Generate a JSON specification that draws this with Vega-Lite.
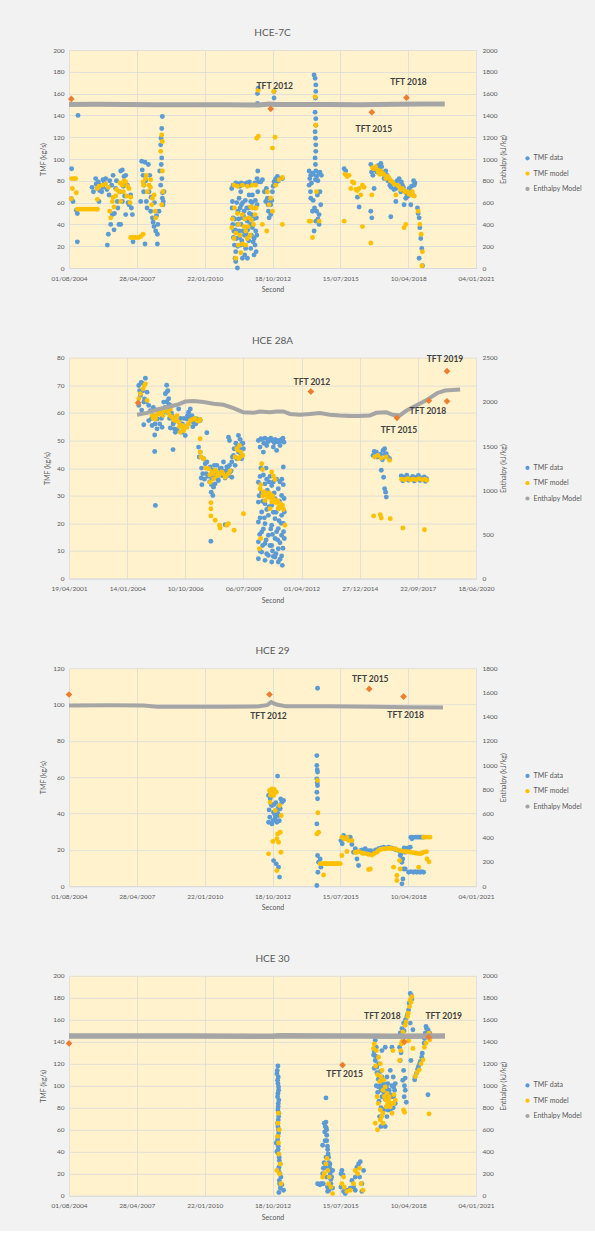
{
"$schema":"https://vega.github.io/schema/vega-lite/v6.json",
"background":"#F2F2F2",
"padding":{"left":39,"top":28,"right":15,"bottom":10},
"spacing":42.6,
"config":{
 "font":"Lato",
 "view":{"fill":"#FFF2CC","stroke":null},
 "axis":{"labelFont":"Lato","titleFont":"Lato","labelFontSize":6.5,"titleFontSize":7,"labelColor":"#595959","titleColor":"#595959","titleFontWeight":"normal","ticks":false,"domain":false,"gridColor":"#D9D9D9","gridWidth":0.8},
 "axisX":{"domain":true,"domainColor":"#D9D9D9","labelPadding":7,"titlePadding":4,"labelFlush":false,"labelOverlap":false},
 "title":{"font":"Lato","fontSize":10,"fontWeight":"normal","color":"#595959","offset":9,"anchor":"middle"},
 "point":{"filled":true,"size":24,"opacity":1},
 "text":{"font":"Lato","fontWeight":"bold","fontSize":8.5,"color":"#404040","align":"center","baseline":"middle"}
},
"resolve":{"scale":{"x":"independent","y":"independent","color":"independent"},"legend":{"color":"independent"}},
"vconcat":[
{
 "width":407,"height":218,
 "title":{"text":"HCE-7C"},
 "data":{"values":[
{"series":"TMF data","d":38239,"v":91},{"series":"TMF data","d":38234,"v":63.5},{"series":"TMF data","d":38333,"v":140},{"series":"TMF data","d":38323,"v":50},{"series":"TMF data","d":38323,"v":24},{"series":"TMF data","d":38308,"v":53},{"series":"TMF data","d":38259,"v":61},
{"series":"TMF data","d":38593,"v":82},{"series":"TMF data","d":38633,"v":79},{"series":"TMF data","d":38667,"v":76},{"series":"TMF data","d":38701,"v":81},{"series":"TMF data","d":38741,"v":82},{"series":"TMF data","d":38618,"v":73},{"series":"TMF data","d":38642,"v":61},{"series":"TMF data","d":38682,"v":70},
{"series":"TMF data","d":38600,"v":77},{"series":"TMF data","d":38650,"v":71},{"series":"TMF data","d":38700,"v":74},{"series":"TMF data","d":38720,"v":78},{"series":"TMF data","d":38760,"v":72},{"series":"TMF data","d":38540,"v":74},{"series":"TMF data","d":38560,"v":70},
{"series":"TMF data","d":38765,"v":21},{"series":"TMF data","d":38780,"v":31},{"series":"TMF data","d":38815,"v":40},{"series":"TMF data","d":38839,"v":49},{"series":"TMF data","d":38864,"v":35},{"series":"TMF data","d":38888,"v":73},{"series":"TMF data","d":38913,"v":61},{"series":"TMF data","d":38937,"v":40},{"series":"TMF data","d":38962,"v":89},{"series":"TMF data","d":38987,"v":90},{"series":"TMF data","d":39011,"v":84},{"series":"TMF data","d":39036,"v":85},{"series":"TMF data","d":39060,"v":76},{"series":"TMF data","d":39085,"v":58},{"series":"TMF data","d":39109,"v":67},{"series":"TMF data","d":39134,"v":49},{"series":"TMF data","d":39144,"v":24},{"series":"TMF data","d":38790,"v":67},{"series":"TMF data","d":38829,"v":76},{"series":"TMF data","d":38987,"v":61},{"series":"TMF data","d":39036,"v":49},{"series":"TMF data","d":38962,"v":40},
{"series":"TMF data","d":38800,"v":80},{"series":"TMF data","d":38850,"v":85},{"series":"TMF data","d":38900,"v":80},{"series":"TMF data","d":38950,"v":70},{"series":"TMF data","d":39000,"v":75},{"series":"TMF data","d":38870,"v":50},{"series":"TMF data","d":38920,"v":55},{"series":"TMF data","d":39020,"v":66},{"series":"TMF data","d":39070,"v":60},{"series":"TMF data","d":39120,"v":55},
{"series":"TMF data","d":39257,"v":61},{"series":"TMF data","d":39272,"v":98},{"series":"TMF data","d":39321,"v":97},{"series":"TMF data","d":39370,"v":95},{"series":"TMF data","d":39306,"v":76},{"series":"TMF data","d":39380,"v":70},{"series":"TMF data","d":39404,"v":52},{"series":"TMF data","d":39429,"v":46},{"series":"TMF data","d":39454,"v":38},{"series":"TMF data","d":39478,"v":34},{"series":"TMF data","d":39503,"v":31},{"series":"TMF data","d":39321,"v":22},{"series":"TMF data","d":39503,"v":22},{"series":"TMF data","d":39340,"v":61},{"series":"TMF data","d":39292,"v":85},
{"series":"TMF data","d":39280,"v":90},{"series":"TMF data","d":39300,"v":70},{"series":"TMF data","d":39330,"v":80},{"series":"TMF data","d":39350,"v":55},{"series":"TMF data","d":39390,"v":85},{"series":"TMF data","d":39410,"v":65},{"series":"TMF data","d":39440,"v":42},{"series":"TMF data","d":39460,"v":60},{"series":"TMF data","d":39490,"v":48},{"series":"TMF data","d":39510,"v":40},
{"series":"TMF data","d":39576,"v":139},{"series":"TMF data","d":39567,"v":128},{"series":"TMF data","d":39557,"v":119},{"series":"TMF data","d":39552,"v":113},{"series":"TMF data","d":39567,"v":101},{"series":"TMF data","d":39537,"v":89},{"series":"TMF data","d":39552,"v":76},{"series":"TMF data","d":39576,"v":64},{"series":"TMF data","d":39586,"v":58},{"series":"TMF data","d":39527,"v":52},{"series":"TMF data","d":39601,"v":70},{"series":"TMF data","d":39560,"v":95},{"series":"TMF data","d":39570,"v":82},{"series":"TMF data","d":39580,"v":69},{"series":"TMF data","d":39590,"v":61},
{"series":"TMF data","d":40599,"v":73},{"series":"TMF data","d":40609,"v":61},{"series":"TMF data","d":40619,"v":46},{"series":"TMF data","d":40629,"v":34},{"series":"TMF data","d":40638,"v":21},{"series":"TMF data","d":40648,"v":9},{"series":"TMF data","d":40658,"v":15},{"series":"TMF data","d":40668,"v":27},{"series":"TMF data","d":40683,"v":40},{"series":"TMF data","d":40692,"v":52},{"series":"TMF data","d":40707,"v":64},{"series":"TMF data","d":40717,"v":75},{"series":"TMF data","d":40732,"v":70},{"series":"TMF data","d":40742,"v":58},{"series":"TMF data","d":40756,"v":46},{"series":"TMF data","d":40766,"v":34},{"series":"TMF data","d":40781,"v":21},{"series":"TMF data","d":40791,"v":12},{"series":"TMF data","d":40805,"v":18},{"series":"TMF data","d":40815,"v":31},{"series":"TMF data","d":40830,"v":43},{"series":"TMF data","d":40845,"v":55},{"series":"TMF data","d":40855,"v":67},{"series":"TMF data","d":40869,"v":76},{"series":"TMF data","d":40879,"v":61},{"series":"TMF data","d":40894,"v":49},{"series":"TMF data","d":40904,"v":37},{"series":"TMF data","d":40914,"v":24},{"series":"TMF data","d":40928,"v":12},{"series":"TMF data","d":40943,"v":21},{"series":"TMF data","d":40953,"v":34},{"series":"TMF data","d":40963,"v":46},{"series":"TMF data","d":40973,"v":58},{"series":"TMF data","d":40983,"v":70},{"series":"TMF data","d":40992,"v":79},{"series":"TMF data","d":40683,"v":0},{"series":"TMF data","d":40658,"v":6},{"series":"TMF data","d":40732,"v":21},{"series":"TMF data","d":40707,"v":34},{"series":"TMF data","d":40781,"v":52},{"series":"TMF data","d":40830,"v":9},{"series":"TMF data","d":40879,"v":18},{"series":"TMF data","d":40928,"v":27},{"series":"TMF data","d":40756,"v":9},{"series":"TMF data","d":40904,"v":67},
{"series":"TMF data","d":40604,"v":55},{"series":"TMF data","d":40614,"v":40},{"series":"TMF data","d":40624,"v":28},{"series":"TMF data","d":40643,"v":45},{"series":"TMF data","d":40653,"v":35},{"series":"TMF data","d":40673,"v":60},{"series":"TMF data","d":40688,"v":20},{"series":"TMF data","d":40702,"v":45},{"series":"TMF data","d":40712,"v":28},{"series":"TMF data","d":40722,"v":55},{"series":"TMF data","d":40737,"v":40},{"series":"TMF data","d":40747,"v":25},{"series":"TMF data","d":40761,"v":60},{"series":"TMF data","d":40771,"v":48},{"series":"TMF data","d":40786,"v":30},{"series":"TMF data","d":40800,"v":62},{"series":"TMF data","d":40810,"v":45},{"series":"TMF data","d":40820,"v":55},{"series":"TMF data","d":40835,"v":35},{"series":"TMF data","d":40850,"v":25},{"series":"TMF data","d":40860,"v":50},{"series":"TMF data","d":40874,"v":40},{"series":"TMF data","d":40889,"v":30},{"series":"TMF data","d":40899,"v":60},{"series":"TMF data","d":40918,"v":45},{"series":"TMF data","d":40938,"v":55},{"series":"TMF data","d":40948,"v":62},{"series":"TMF data","d":40958,"v":15},{"series":"TMF data","d":40968,"v":30},{"series":"TMF data","d":40620,"v":76},{"series":"TMF data","d":40660,"v":78},{"series":"TMF data","d":40700,"v":77},{"series":"TMF data","d":40740,"v":78},{"series":"TMF data","d":40780,"v":77},{"series":"TMF data","d":40820,"v":78},{"series":"TMF data","d":40860,"v":79},{"series":"TMF data","d":40940,"v":78},
{"series":"TMF data","d":40978,"v":160},{"series":"TMF data","d":40988,"v":165},{"series":"TMF data","d":40978,"v":151},{"series":"TMF data","d":40983,"v":89},{"series":"TMF data","d":40973,"v":82},{"series":"TMF data","d":41027,"v":79},{"series":"TMF data","d":41051,"v":81},
{"series":"TMF data","d":41110,"v":73},{"series":"TMF data","d":41125,"v":64},{"series":"TMF data","d":41140,"v":52},{"series":"TMF data","d":41150,"v":46},{"series":"TMF data","d":41174,"v":58},{"series":"TMF data","d":41199,"v":70},{"series":"TMF data","d":41223,"v":79},{"series":"TMF data","d":41248,"v":82},{"series":"TMF data","d":41272,"v":84},{"series":"TMF data","d":41307,"v":82},{"series":"TMF data","d":41346,"v":82},{"series":"TMF data","d":41223,"v":162},{"series":"TMF data","d":41223,"v":156},{"series":"TMF data","d":41174,"v":49},{"series":"TMF data","d":41100,"v":61},
{"series":"TMF data","d":41080,"v":70},{"series":"TMF data","d":41135,"v":58},{"series":"TMF data","d":41160,"v":60},{"series":"TMF data","d":41190,"v":62},{"series":"TMF data","d":41210,"v":75},{"series":"TMF data","d":41235,"v":80},{"series":"TMF data","d":41260,"v":79},{"series":"TMF data","d":41290,"v":80},
{"series":"TMF data","d":41813,"v":177},{"series":"TMF data","d":41828,"v":174},{"series":"TMF data","d":41838,"v":162},{"series":"TMF data","d":41828,"v":150},{"series":"TMF data","d":41838,"v":137},{"series":"TMF data","d":41828,"v":125},{"series":"TMF data","d":41838,"v":113},{"series":"TMF data","d":41828,"v":101},{"series":"TMF data","d":41838,"v":89},{"series":"TMF data","d":41740,"v":89},{"series":"TMF data","d":41764,"v":85},{"series":"TMF data","d":41789,"v":87},{"series":"TMF data","d":41887,"v":87},{"series":"TMF data","d":41921,"v":85},{"series":"TMF data","d":41740,"v":76},{"series":"TMF data","d":41764,"v":64},{"series":"TMF data","d":41789,"v":52},{"series":"TMF data","d":41838,"v":43},{"series":"TMF data","d":41887,"v":49},{"series":"TMF data","d":41911,"v":58},{"series":"TMF data","d":41862,"v":67},{"series":"TMF data","d":41813,"v":34},{"series":"TMF data","d":41887,"v":40},{"series":"TMF data","d":41838,"v":168},{"series":"TMF data","d":41828,"v":143},{"series":"TMF data","d":41838,"v":131},{"series":"TMF data","d":41838,"v":107},{"series":"TMF data","d":41833,"v":156},{"series":"TMF data","d":41833,"v":119},{"series":"TMF data","d":41833,"v":95},{"series":"TMF data","d":41833,"v":81},
{"series":"TMF data","d":41750,"v":82},{"series":"TMF data","d":41775,"v":78},{"series":"TMF data","d":41800,"v":86},{"series":"TMF data","d":41850,"v":84},{"series":"TMF data","d":41870,"v":80},{"series":"TMF data","d":41900,"v":88},{"series":"TMF data","d":41760,"v":70},{"series":"TMF data","d":41800,"v":62},{"series":"TMF data","d":41820,"v":55},{"series":"TMF data","d":41850,"v":52},{"series":"TMF data","d":41870,"v":45},{"series":"TMF data","d":41900,"v":70},
{"series":"TMF data","d":42256,"v":91},{"series":"TMF data","d":42280,"v":89},{"series":"TMF data","d":42477,"v":56},{"series":"TMF data","d":42649,"v":52},{"series":"TMF data","d":42664,"v":46},{"series":"TMF data","d":42452,"v":65},
{"series":"TMF data","d":42649,"v":95},{"series":"TMF data","d":42723,"v":92},{"series":"TMF data","d":42797,"v":96},{"series":"TMF data","d":42870,"v":89},{"series":"TMF data","d":42919,"v":82},{"series":"TMF data","d":42969,"v":79},{"series":"TMF data","d":43018,"v":73},{"series":"TMF data","d":43067,"v":82},{"series":"TMF data","d":43116,"v":76},{"series":"TMF data","d":43165,"v":70},{"series":"TMF data","d":43214,"v":73},{"series":"TMF data","d":43263,"v":67},{"series":"TMF data","d":43288,"v":76},{"series":"TMF data","d":42944,"v":47},{"series":"TMF data","d":43018,"v":61},{"series":"TMF data","d":43140,"v":58},{"series":"TMF data","d":43165,"v":64},{"series":"TMF data","d":42698,"v":73},{"series":"TMF data","d":42846,"v":82},{"series":"TMF data","d":43239,"v":58},
{"series":"TMF data","d":42660,"v":88},{"series":"TMF data","d":42680,"v":85},{"series":"TMF data","d":42700,"v":90},{"series":"TMF data","d":42740,"v":88},{"series":"TMF data","d":42760,"v":94},{"series":"TMF data","d":42780,"v":91},{"series":"TMF data","d":42810,"v":93},{"series":"TMF data","d":42830,"v":86},{"series":"TMF data","d":42850,"v":88},{"series":"TMF data","d":42890,"v":85},{"series":"TMF data","d":42900,"v":80},{"series":"TMF data","d":42930,"v":76},{"series":"TMF data","d":42950,"v":74},{"series":"TMF data","d":42990,"v":72},{"series":"TMF data","d":43000,"v":78},{"series":"TMF data","d":43040,"v":80},{"series":"TMF data","d":43060,"v":76},{"series":"TMF data","d":43090,"v":70},{"series":"TMF data","d":43100,"v":79},{"series":"TMF data","d":43130,"v":74},{"series":"TMF data","d":43180,"v":68},{"series":"TMF data","d":43200,"v":66},{"series":"TMF data","d":43230,"v":70},{"series":"TMF data","d":43250,"v":75},{"series":"TMF data","d":43280,"v":80},{"series":"TMF data","d":43300,"v":78},
{"series":"TMF data","d":43337,"v":55},{"series":"TMF data","d":43362,"v":46},{"series":"TMF data","d":43372,"v":37},{"series":"TMF data","d":43386,"v":27},{"series":"TMF data","d":43401,"v":18},{"series":"TMF data","d":43362,"v":9},{"series":"TMF data","d":43411,"v":2},{"series":"TMF data","d":43347,"v":50},
{"series":"TMF model","d":38239,"v":82},{"series":"TMF model","d":38274,"v":82},{"series":"TMF model","d":38298,"v":82},{"series":"TMF model","d":38234,"v":63.5},{"series":"TMF model","d":38249,"v":73},{"series":"TMF model","d":38308,"v":69},
{"series":"TMF model","d":38323,"v":54},{"series":"TMF model","d":38352,"v":54},{"series":"TMF model","d":38382,"v":54},{"series":"TMF model","d":38411,"v":54},{"series":"TMF model","d":38441,"v":54},{"series":"TMF model","d":38470,"v":54},{"series":"TMF model","d":38500,"v":54},{"series":"TMF model","d":38529,"v":54},{"series":"TMF model","d":38559,"v":54},{"series":"TMF model","d":38588,"v":54},{"series":"TMF model","d":38618,"v":54},
{"series":"TMF model","d":38618,"v":73},{"series":"TMF model","d":38642,"v":75},{"series":"TMF model","d":38692,"v":76},{"series":"TMF model","d":38741,"v":77},{"series":"TMF model","d":38780,"v":74},{"series":"TMF model","d":38618,"v":63},
{"series":"TMF model","d":38800,"v":52},{"series":"TMF model","d":38815,"v":46},{"series":"TMF model","d":38839,"v":61},{"series":"TMF model","d":38864,"v":56},{"series":"TMF model","d":38888,"v":66},{"series":"TMF model","d":38937,"v":70},{"series":"TMF model","d":38987,"v":76},{"series":"TMF model","d":39011,"v":80},{"series":"TMF model","d":39036,"v":79},{"series":"TMF model","d":39060,"v":75},{"series":"TMF model","d":39085,"v":73},{"series":"TMF model","d":39109,"v":65},{"series":"TMF model","d":38962,"v":61},
{"series":"TMF model","d":38850,"v":65},{"series":"TMF model","d":38900,"v":72},{"series":"TMF model","d":38950,"v":78},{"series":"TMF model","d":39000,"v":70},{"series":"TMF model","d":39050,"v":66},{"series":"TMF model","d":39100,"v":60},
{"series":"TMF model","d":39109,"v":28},{"series":"TMF model","d":39144,"v":28},{"series":"TMF model","d":39183,"v":28},{"series":"TMF model","d":39223,"v":28},{"series":"TMF model","d":39257,"v":29},{"series":"TMF model","d":39292,"v":31},
{"series":"TMF model","d":39292,"v":79},{"series":"TMF model","d":39331,"v":82},{"series":"TMF model","d":39380,"v":76},{"series":"TMF model","d":39419,"v":58},{"series":"TMF model","d":39454,"v":67},{"series":"TMF model","d":39478,"v":46},{"series":"TMF model","d":39355,"v":70},{"series":"TMF model","d":39404,"v":81},
{"series":"TMF model","d":39300,"v":76},{"series":"TMF model","d":39340,"v":85},{"series":"TMF model","d":39400,"v":74},{"series":"TMF model","d":39430,"v":64},{"series":"TMF model","d":39470,"v":52},
{"series":"TMF model","d":39567,"v":122},{"series":"TMF model","d":39552,"v":107},{"series":"TMF model","d":39576,"v":89},{"series":"TMF model","d":39586,"v":70},{"series":"TMF model","d":39567,"v":58},{"series":"TMF model","d":39576,"v":116},
{"series":"TMF model","d":40599,"v":37},{"series":"TMF model","d":40633,"v":27},{"series":"TMF model","d":40658,"v":9},{"series":"TMF model","d":40697,"v":21},{"series":"TMF model","d":40732,"v":14},{"series":"TMF model","d":40756,"v":49},{"series":"TMF model","d":40781,"v":38},{"series":"TMF model","d":40805,"v":34},{"series":"TMF model","d":40830,"v":27},{"series":"TMF model","d":40855,"v":46},{"series":"TMF model","d":40879,"v":56},{"series":"TMF model","d":40904,"v":55},{"series":"TMF model","d":40943,"v":49},{"series":"TMF model","d":40633,"v":76},{"series":"TMF model","d":40683,"v":75},{"series":"TMF model","d":40756,"v":76},{"series":"TMF model","d":40830,"v":75},{"series":"TMF model","d":40904,"v":76},{"series":"TMF model","d":40953,"v":76},{"series":"TMF model","d":41051,"v":40},{"series":"TMF model","d":41115,"v":34},{"series":"TMF model","d":40683,"v":50},{"series":"TMF model","d":40805,"v":21},
{"series":"TMF model","d":40610,"v":45},{"series":"TMF model","d":40640,"v":55},{"series":"TMF model","d":40660,"v":32},{"series":"TMF model","d":40700,"v":40},{"series":"TMF model","d":40720,"v":30},{"series":"TMF model","d":40760,"v":22},{"series":"TMF model","d":40790,"v":45},{"series":"TMF model","d":40840,"v":38},{"series":"TMF model","d":40870,"v":30},{"series":"TMF model","d":40890,"v":44},{"series":"TMF model","d":40920,"v":40},{"series":"TMF model","d":40960,"v":55},
{"series":"TMF model","d":40988,"v":163},{"series":"TMF model","d":40968,"v":119},{"series":"TMF model","d":40992,"v":121},{"series":"TMF model","d":41199,"v":110},{"series":"TMF model","d":41238,"v":120},{"series":"TMF model","d":41346,"v":40},
{"series":"TMF model","d":41125,"v":70},{"series":"TMF model","d":41150,"v":58},{"series":"TMF model","d":41174,"v":64},{"series":"TMF model","d":41199,"v":52},{"series":"TMF model","d":41248,"v":76},{"series":"TMF model","d":41297,"v":81},{"series":"TMF model","d":41346,"v":83},{"series":"TMF model","d":41218,"v":162},
{"series":"TMF model","d":41828,"v":157},{"series":"TMF model","d":41838,"v":131},{"series":"TMF model","d":41848,"v":70},{"series":"TMF model","d":41764,"v":43},{"series":"TMF model","d":41887,"v":43},{"series":"TMF model","d":41789,"v":28},{"series":"TMF model","d":41740,"v":43},
{"series":"TMF model","d":42270,"v":86},{"series":"TMF model","d":42329,"v":85},{"series":"TMF model","d":42378,"v":79},{"series":"TMF model","d":42354,"v":73},{"series":"TMF model","d":42428,"v":72},{"series":"TMF model","d":42477,"v":73},{"series":"TMF model","d":42526,"v":76},{"series":"TMF model","d":42501,"v":67},{"series":"TMF model","d":42256,"v":43},{"series":"TMF model","d":42526,"v":38},{"series":"TMF model","d":42649,"v":23},{"series":"TMF model","d":42664,"v":67},
{"series":"TMF model","d":42300,"v":84},{"series":"TMF model","d":42400,"v":78},{"series":"TMF model","d":42450,"v":71},{"series":"TMF model","d":42550,"v":74},
{"series":"TMF model","d":42674,"v":92},{"series":"TMF model","d":42747,"v":90},{"series":"TMF model","d":42821,"v":87},{"series":"TMF model","d":42895,"v":84},{"series":"TMF model","d":42969,"v":79},{"series":"TMF model","d":43042,"v":76},{"series":"TMF model","d":43116,"v":73},{"series":"TMF model","d":43190,"v":70},{"series":"TMF model","d":43239,"v":67},{"series":"TMF model","d":43018,"v":67},{"series":"TMF model","d":43165,"v":40},{"series":"TMF model","d":43140,"v":37},{"series":"TMF model","d":42797,"v":89},
{"series":"TMF model","d":42690,"v":91},{"series":"TMF model","d":42720,"v":93},{"series":"TMF model","d":42760,"v":88},{"series":"TMF model","d":42780,"v":86},{"series":"TMF model","d":42840,"v":86},{"series":"TMF model","d":42870,"v":82},{"series":"TMF model","d":42910,"v":83},{"series":"TMF model","d":42940,"v":80},{"series":"TMF model","d":42990,"v":77},{"series":"TMF model","d":43060,"v":75},{"series":"TMF model","d":43090,"v":72},{"series":"TMF model","d":43150,"v":70},{"series":"TMF model","d":43210,"v":68},{"series":"TMF model","d":43260,"v":70},{"series":"TMF model","d":43290,"v":66},
{"series":"TMF model","d":43347,"v":52},{"series":"TMF model","d":43372,"v":40},{"series":"TMF model","d":43391,"v":31},{"series":"TMF model","d":43411,"v":15},{"series":"TMF model","d":43401,"v":2},
{"series":"Enthalpy Model","d":38200,"e":1500},{"series":"Enthalpy Model","d":38600,"e":1502},{"series":"Enthalpy Model","d":39000,"e":1500},{"series":"Enthalpy Model","d":39500,"e":1498},{"series":"Enthalpy Model","d":40000,"e":1497},{"series":"Enthalpy Model","d":40500,"e":1497},{"series":"Enthalpy Model","d":41000,"e":1495},{"series":"Enthalpy Model","d":41150,"e":1505},{"series":"Enthalpy Model","d":41250,"e":1500},{"series":"Enthalpy Model","d":41500,"e":1500},{"series":"Enthalpy Model","d":42000,"e":1500},{"series":"Enthalpy Model","d":42500,"e":1497},{"series":"Enthalpy Model","d":43000,"e":1503},{"series":"Enthalpy Model","d":43400,"e":1505},{"series":"Enthalpy Model","d":43740,"e":1505},
{"series":"TFT","d":38234,"e":1551,"label":""},{"series":"TFT","d":41174,"e":1460,"label":"TFT 2012"},{"series":"TFT","d":42664,"e":1429,"label":"TFT 2015"},{"series":"TFT","d":43175,"e":1563,"label":"TFT 2018"}
 ]},
 "encoding":{"x":{"field":"d","type":"quantitative","scale":{"domain":[38200,44200],"nice":false,"zero":false},"axis":{"values":[38200,39200,40200,41200,42200,43200,44200],"labelExpr":"timeFormat(datetime(1899,11,30+datum.value),'%d/%m/%Y')","title":"Second","grid":true}}},
 "layer":[
  {"transform":[{"filter":"datum.series=='TMF data'||datum.series=='TMF model'"}],
   "mark":{"type":"point","filled":true,"size":24,"opacity":1},
   "encoding":{
    "y":{"field":"v","type":"quantitative","scale":{"domain":[0,200],"nice":false},"axis":{"values":[0,20,40,60,80,100,120,140,160,180,200],"title":"TMF (kg/s)","grid":true,"labelPadding":5,"titlePadding":6}},
    "color":{"field":"series","type":"nominal","scale":{"domain":["TMF data","TMF model","Enthalpy Model"],"range":["#5B9BD5","#FFC000","#A5A5A5"]},"legend":{"title":null,"orient":"none","legendX":455,"legendY":104.8,"symbolType":"circle","symbolSize":18,"labelFontSize":7,"labelColor":"#595959","labelFont":"Lato","rowPadding":7.3,"padding":0,"labelOffset":2.5}}
   }},
  {"encoding":{"y":{"field":"e","type":"quantitative","scale":{"domain":[0,2000],"nice":false},"axis":{"orient":"right","values":[0,200,400,600,800,1000,1200,1400,1600,1800,2000],"format":"d","title":"Enthalpy (kJ/kg)","grid":false,"labelPadding":6,"titlePadding":9,"titleAngle":270}}},
   "layer":[
    {"transform":[{"filter":"datum.series=='Enthalpy Model'"}],"mark":{"type":"line","color":"#A5A5A5","strokeWidth":5}},
    {"transform":[{"filter":"datum.series=='TFT'"}],"mark":{"type":"point","shape":"diamond","filled":true,"color":"#ED7D31","size":45,"opacity":1}},
    {"transform":[{"filter":"datum.label=='TFT 2012'"}],"mark":{"type":"text","dx":4,"dy":-23},"encoding":{"text":{"field":"label"}}},
    {"transform":[{"filter":"datum.label=='TFT 2015'"}],"mark":{"type":"text","dx":2,"dy":17},"encoding":{"text":{"field":"label"}}},
    {"transform":[{"filter":"datum.label=='TFT 2018'"}],"mark":{"type":"text","dx":2,"dy":-16},"encoding":{"text":{"field":"label"}}}
   ]}
 ],
 "resolve":{"scale":{"y":"independent"}}
},
{
 "width":407,"height":221,
 "title":{"text":"HCE 28A"},
 "data":{"values":[
{"series":"TMF data","d":38314,"v":72.5},{"series":"TMF data","d":38257,"v":70.8},{"series":"TMF data","d":38200,"v":69.9},{"series":"TMF data","d":38229,"v":66.3},{"series":"TMF data","d":38200,"v":62.7},{"series":"TMF data","d":38286,"v":63.9},{"series":"TMF data","d":38343,"v":67.5},{"series":"TMF data","d":38371,"v":62.7},{"series":"TMF data","d":38286,"v":55.7},{"series":"TMF data","d":38474,"v":52},{"series":"TMF data","d":38474,"v":46},{"series":"TMF data","d":38486,"v":26.5},{"series":"TMF data","d":38789,"v":46.7},
{"series":"TMF data","d":38215,"v":68},{"series":"TMF data","d":38240,"v":71},{"series":"TMF data","d":38270,"v":68},{"series":"TMF data","d":38300,"v":65},{"series":"TMF data","d":38330,"v":64},{"series":"TMF data","d":38250,"v":61},
{"series":"TMF data","d":38400,"v":60.8},{"series":"TMF data","d":38457,"v":59},{"series":"TMF data","d":38514,"v":57.8},{"series":"TMF data","d":38571,"v":60.2},{"series":"TMF data","d":38629,"v":63.9},{"series":"TMF data","d":38657,"v":66.9},{"series":"TMF data","d":38686,"v":67.7},{"series":"TMF data","d":38714,"v":65.1},{"series":"TMF data","d":38743,"v":62.7},{"series":"TMF data","d":38771,"v":59},{"series":"TMF data","d":38800,"v":56.6},{"series":"TMF data","d":38857,"v":57.8},{"series":"TMF data","d":38914,"v":55.4},{"series":"TMF data","d":38943,"v":53},{"series":"TMF data","d":38971,"v":54.2},{"series":"TMF data","d":39000,"v":51.8},{"series":"TMF data","d":39029,"v":57.8},{"series":"TMF data","d":39057,"v":60.2},{"series":"TMF data","d":39086,"v":61.4},{"series":"TMF data","d":39114,"v":59},{"series":"TMF data","d":39143,"v":56.6},{"series":"TMF data","d":39200,"v":57.8},{"series":"TMF data","d":39257,"v":57.2},{"series":"TMF data","d":38514,"v":54.2},{"series":"TMF data","d":38600,"v":54.8},{"series":"TMF data","d":38829,"v":53},{"series":"TMF data","d":38886,"v":61.4},{"series":"TMF data","d":38371,"v":57.2},{"series":"TMF data","d":38429,"v":55.4},{"series":"TMF data","d":38811,"v":54.2},{"series":"TMF data","d":38743,"v":54.5},{"series":"TMF data","d":39371,"v":52.8},
{"series":"TMF data","d":38420,"v":58},{"series":"TMF data","d":38450,"v":62},{"series":"TMF data","d":38480,"v":56},{"series":"TMF data","d":38540,"v":60},{"series":"TMF data","d":38560,"v":56},{"series":"TMF data","d":38590,"v":58},{"series":"TMF data","d":38620,"v":60},{"series":"TMF data","d":38650,"v":62},{"series":"TMF data","d":38680,"v":64},{"series":"TMF data","d":38700,"v":60},{"series":"TMF data","d":38730,"v":58},{"series":"TMF data","d":38760,"v":60},{"series":"TMF data","d":38790,"v":56},{"series":"TMF data","d":38830,"v":58},{"series":"TMF data","d":38860,"v":54},{"series":"TMF data","d":38890,"v":57},{"series":"TMF data","d":38920,"v":58},{"series":"TMF data","d":38950,"v":56},{"series":"TMF data","d":38980,"v":58},{"series":"TMF data","d":39010,"v":55},{"series":"TMF data","d":39040,"v":59},{"series":"TMF data","d":39070,"v":58},{"series":"TMF data","d":39100,"v":57},{"series":"TMF data","d":39130,"v":55},{"series":"TMF data","d":39160,"v":58},{"series":"TMF data","d":39180,"v":56},{"series":"TMF data","d":39220,"v":57},{"series":"TMF data","d":38680,"v":70},{"series":"TMF data","d":38700,"v":68},{"series":"TMF data","d":38720,"v":63},
{"series":"TMF data","d":39274,"v":36.4},{"series":"TMF data","d":39286,"v":34},{"series":"TMF data","d":39371,"v":42.2},{"series":"TMF data","d":39429,"v":40.4},{"series":"TMF data","d":39486,"v":39.2},{"series":"TMF data","d":39543,"v":41},{"series":"TMF data","d":39600,"v":39.8},{"series":"TMF data","d":39657,"v":42.2},{"series":"TMF data","d":39714,"v":40.4},{"series":"TMF data","d":39771,"v":38.6},{"series":"TMF data","d":39457,"v":36.1},{"series":"TMF data","d":39514,"v":34.3},{"series":"TMF data","d":39571,"v":35.5},{"series":"TMF data","d":39629,"v":37.3},{"series":"TMF data","d":39686,"v":36.4},{"series":"TMF data","d":39743,"v":37.3},{"series":"TMF data","d":39800,"v":36.7},{"series":"TMF data","d":39446,"v":31.3},{"series":"TMF data","d":39486,"v":33.1},{"series":"TMF data","d":39440,"v":13.5},{"series":"TMF data","d":39474,"v":30.1},{"series":"TMF data","d":39686,"v":19.5},{"series":"TMF data","d":39229,"v":47.6},{"series":"TMF data","d":39257,"v":45.8},{"series":"TMF data","d":39314,"v":43.4},{"series":"TMF data","d":39343,"v":41.6},
{"series":"TMF data","d":39240,"v":44},{"series":"TMF data","d":39280,"v":40},{"series":"TMF data","d":39300,"v":38},{"series":"TMF data","d":39330,"v":36},{"series":"TMF data","d":39360,"v":38},{"series":"TMF data","d":39390,"v":37},{"series":"TMF data","d":39420,"v":35},{"series":"TMF data","d":39450,"v":34},{"series":"TMF data","d":39480,"v":37},{"series":"TMF data","d":39500,"v":41},{"series":"TMF data","d":39530,"v":38},{"series":"TMF data","d":39560,"v":36},{"series":"TMF data","d":39590,"v":38},{"series":"TMF data","d":39620,"v":40},{"series":"TMF data","d":39640,"v":39},{"series":"TMF data","d":39670,"v":38},{"series":"TMF data","d":39700,"v":39},{"series":"TMF data","d":39730,"v":40},{"series":"TMF data","d":39760,"v":41},{"series":"TMF data","d":39790,"v":39},{"series":"TMF data","d":39810,"v":44},{"series":"TMF data","d":39840,"v":47},{"series":"TMF data","d":39870,"v":49},{"series":"TMF data","d":39900,"v":48},{"series":"TMF data","d":39930,"v":47},{"series":"TMF data","d":39960,"v":45},{"series":"TMF data","d":39990,"v":49},
{"series":"TMF data","d":39743,"v":51.2},{"series":"TMF data","d":39760,"v":50},{"series":"TMF data","d":39914,"v":51.8},{"series":"TMF data","d":39943,"v":50.4},{"series":"TMF data","d":39971,"v":48.8},{"series":"TMF data","d":39914,"v":45.8},{"series":"TMF data","d":39886,"v":43.4},{"series":"TMF data","d":39857,"v":41},{"series":"TMF data","d":39800,"v":42.2},{"series":"TMF data","d":39829,"v":44.6},{"series":"TMF data","d":40000,"v":47},{"series":"TMF data","d":39971,"v":43.4},
{"series":"TMF data","d":40257,"v":50},{"series":"TMF data","d":40314,"v":50.4},{"series":"TMF data","d":40371,"v":50.8},{"series":"TMF data","d":40429,"v":50.4},{"series":"TMF data","d":40486,"v":50},{"series":"TMF data","d":40543,"v":50.4},{"series":"TMF data","d":40600,"v":50},{"series":"TMF data","d":40657,"v":50.4},{"series":"TMF data","d":40697,"v":49.4},{"series":"TMF data","d":40286,"v":47.6},{"series":"TMF data","d":40400,"v":48.2},{"series":"TMF data","d":40514,"v":47.6},{"series":"TMF data","d":40629,"v":48.2},{"series":"TMF data","d":40343,"v":45.8},{"series":"TMF data","d":40571,"v":46.4},{"series":"TMF data","d":40686,"v":40.4},
{"series":"TMF data","d":40300,"v":50.6},{"series":"TMF data","d":40350,"v":49},{"series":"TMF data","d":40420,"v":49.5},{"series":"TMF data","d":40470,"v":50.8},{"series":"TMF data","d":40530,"v":49.2},{"series":"TMF data","d":40590,"v":49.5},{"series":"TMF data","d":40640,"v":49.8},{"series":"TMF data","d":40680,"v":50.8},
{"series":"TMF data","d":40257,"v":34.9},{"series":"TMF data","d":40257,"v":27.7},{"series":"TMF data","d":40257,"v":20.5},{"series":"TMF data","d":40257,"v":13.3},{"series":"TMF data","d":40257,"v":7.2},{"series":"TMF data","d":40314,"v":31.3},{"series":"TMF data","d":40314,"v":24.1},{"series":"TMF data","d":40314,"v":16.9},{"series":"TMF data","d":40314,"v":9.6},{"series":"TMF data","d":40371,"v":34.3},{"series":"TMF data","d":40371,"v":27.1},{"series":"TMF data","d":40371,"v":19.9},{"series":"TMF data","d":40371,"v":12.7},{"series":"TMF data","d":40371,"v":6.6},{"series":"TMF data","d":40429,"v":30.1},{"series":"TMF data","d":40429,"v":22.9},{"series":"TMF data","d":40429,"v":15.7},{"series":"TMF data","d":40429,"v":8.4},{"series":"TMF data","d":40486,"v":33.7},{"series":"TMF data","d":40486,"v":26.5},{"series":"TMF data","d":40486,"v":19.3},{"series":"TMF data","d":40486,"v":12},{"series":"TMF data","d":40486,"v":6},{"series":"TMF data","d":40543,"v":28.9},{"series":"TMF data","d":40543,"v":21.7},{"series":"TMF data","d":40543,"v":14.5},{"series":"TMF data","d":40543,"v":7.8},{"series":"TMF data","d":40600,"v":32.5},{"series":"TMF data","d":40600,"v":25.3},{"series":"TMF data","d":40600,"v":18.1},{"series":"TMF data","d":40600,"v":10.8},{"series":"TMF data","d":40600,"v":6},{"series":"TMF data","d":40657,"v":30.1},{"series":"TMF data","d":40657,"v":22.9},{"series":"TMF data","d":40657,"v":15.7},{"series":"TMF data","d":40657,"v":8.2},{"series":"TMF data","d":40669,"v":4.8},{"series":"TMF data","d":40703,"v":24.1},{"series":"TMF data","d":40703,"v":14.5},
{"series":"TMF data","d":40286,"v":37},{"series":"TMF data","d":40343,"v":37.5},{"series":"TMF data","d":40400,"v":36},{"series":"TMF data","d":40457,"v":37},{"series":"TMF data","d":40514,"v":35},{"series":"TMF data","d":40571,"v":36},{"series":"TMF data","d":40629,"v":35},{"series":"TMF data","d":40686,"v":34},{"series":"TMF data","d":40286,"v":22},{"series":"TMF data","d":40343,"v":18},{"series":"TMF data","d":40400,"v":25},{"series":"TMF data","d":40457,"v":12},{"series":"TMF data","d":40514,"v":24},{"series":"TMF data","d":40571,"v":17},{"series":"TMF data","d":40629,"v":13},{"series":"TMF data","d":40686,"v":20},{"series":"TMF data","d":40286,"v":10},{"series":"TMF data","d":40400,"v":9},{"series":"TMF data","d":40514,"v":8},{"series":"TMF data","d":40629,"v":7},
{"series":"TMF data","d":40270,"v":30},{"series":"TMF data","d":40300,"v":40},{"series":"TMF data","d":40330,"v":28},{"series":"TMF data","d":40360,"v":22},{"series":"TMF data","d":40390,"v":14},{"series":"TMF data","d":40410,"v":32},{"series":"TMF data","d":40440,"v":26},{"series":"TMF data","d":40470,"v":18},{"series":"TMF data","d":40500,"v":10},{"series":"TMF data","d":40530,"v":31},{"series":"TMF data","d":40560,"v":24},{"series":"TMF data","d":40590,"v":14},{"series":"TMF data","d":40620,"v":28},{"series":"TMF data","d":40650,"v":20},{"series":"TMF data","d":40680,"v":11},{"series":"TMF data","d":40700,"v":29},{"series":"TMF data","d":40280,"v":16},{"series":"TMF data","d":40330,"v":12},{"series":"TMF data","d":40390,"v":40},{"series":"TMF data","d":40440,"v":35},{"series":"TMF data","d":40500,"v":16},{"series":"TMF data","d":40560,"v":9},{"series":"TMF data","d":40610,"v":21},{"series":"TMF data","d":40660,"v":36},{"series":"TMF data","d":40690,"v":17},
{"series":"TMF data","d":42229,"v":44.6},{"series":"TMF data","d":42286,"v":45.8},{"series":"TMF data","d":42343,"v":44},{"series":"TMF data","d":42400,"v":46.4},{"series":"TMF data","d":42457,"v":45.2},{"series":"TMF data","d":42514,"v":43.4},{"series":"TMF data","d":42429,"v":47},{"series":"TMF data","d":42371,"v":39.2},{"series":"TMF data","d":42411,"v":36.7},{"series":"TMF data","d":42429,"v":32.5},{"series":"TMF data","d":42446,"v":31.3},{"series":"TMF data","d":42457,"v":29.5},
{"series":"TMF data","d":42250,"v":46},{"series":"TMF data","d":42300,"v":44},{"series":"TMF data","d":42360,"v":45},{"series":"TMF data","d":42390,"v":43},{"series":"TMF data","d":42440,"v":45},{"series":"TMF data","d":42480,"v":44},
{"series":"TMF data","d":42713,"v":37.2},{"series":"TMF data","d":42760,"v":36.8},{"series":"TMF data","d":42810,"v":37.4},{"series":"TMF data","d":42860,"v":36.2},{"series":"TMF data","d":42910,"v":37},{"series":"TMF data","d":42960,"v":36.6},{"series":"TMF data","d":43010,"v":37.3},{"series":"TMF data","d":43060,"v":36.4},{"series":"TMF data","d":43110,"v":36.8},{"series":"TMF data","d":43150,"v":36.2},{"series":"TMF data","d":42740,"v":35.4},{"series":"TMF data","d":42840,"v":35.6},{"series":"TMF data","d":42940,"v":35.3},{"series":"TMF data","d":43040,"v":35.5},{"series":"TMF data","d":43130,"v":35.2},
{"series":"TMF model","d":38274,"v":68.7},{"series":"TMF model","d":38297,"v":69.9},{"series":"TMF model","d":38229,"v":66.9},{"series":"TMF model","d":38200,"v":65.1},{"series":"TMF model","d":38343,"v":64.5},{"series":"TMF model","d":38314,"v":70.5},
{"series":"TMF model","d":38429,"v":59},{"series":"TMF model","d":38486,"v":57.8},{"series":"TMF model","d":38543,"v":59.6},{"series":"TMF model","d":38600,"v":60.2},{"series":"TMF model","d":38657,"v":60.8},{"series":"TMF model","d":38714,"v":60},{"series":"TMF model","d":38771,"v":58.4},{"series":"TMF model","d":38829,"v":57.2},{"series":"TMF model","d":38886,"v":56.6},{"series":"TMF model","d":38943,"v":55.4},{"series":"TMF model","d":38971,"v":53.6},{"series":"TMF model","d":39029,"v":54.8},{"series":"TMF model","d":39086,"v":57.2},{"series":"TMF model","d":39143,"v":57.8},{"series":"TMF model","d":39200,"v":57.2},{"series":"TMF model","d":39257,"v":57.6},{"series":"TMF model","d":38514,"v":60.8},{"series":"TMF model","d":38743,"v":61.4},{"series":"TMF model","d":38857,"v":59},{"series":"TMF model","d":38914,"v":53},{"series":"TMF model","d":39057,"v":56},
{"series":"TMF model","d":38450,"v":58},{"series":"TMF model","d":38500,"v":59},{"series":"TMF model","d":38560,"v":60},{"series":"TMF model","d":38620,"v":59},{"series":"TMF model","d":38680,"v":61},{"series":"TMF model","d":38740,"v":59},{"series":"TMF model","d":38800,"v":57.5},{"series":"TMF model","d":38850,"v":58},{"series":"TMF model","d":38900,"v":55},{"series":"TMF model","d":38960,"v":54},{"series":"TMF model","d":39000,"v":55},{"series":"TMF model","d":39050,"v":56},{"series":"TMF model","d":39110,"v":57.5},{"series":"TMF model","d":39170,"v":58},{"series":"TMF model","d":39230,"v":57},
{"series":"TMF model","d":39257,"v":50.6},{"series":"TMF model","d":39257,"v":45.8},{"series":"TMF model","d":39314,"v":43.4},{"series":"TMF model","d":39400,"v":39.8},{"series":"TMF model","d":39457,"v":38.6},{"series":"TMF model","d":39514,"v":39.2},{"series":"TMF model","d":39571,"v":38},{"series":"TMF model","d":39629,"v":38.6},{"series":"TMF model","d":39686,"v":36.7},{"series":"TMF model","d":39743,"v":38},{"series":"TMF model","d":39429,"v":34.9},{"series":"TMF model","d":39486,"v":36.1},{"series":"TMF model","d":39543,"v":37.1},{"series":"TMF model","d":39440,"v":27.5},{"series":"TMF model","d":39440,"v":25.3},{"series":"TMF model","d":39440,"v":22.7},{"series":"TMF model","d":39514,"v":21.1},{"series":"TMF model","d":39589,"v":19.3},{"series":"TMF model","d":39600,"v":18.3},{"series":"TMF model","d":39714,"v":19.3},{"series":"TMF model","d":39743,"v":19.9},{"series":"TMF model","d":39840,"v":17.5},{"series":"TMF model","d":40000,"v":23.5},
{"series":"TMF model","d":39270,"v":44},{"series":"TMF model","d":39350,"v":40},{"series":"TMF model","d":39420,"v":37.5},{"series":"TMF model","d":39480,"v":38},{"series":"TMF model","d":39530,"v":39},{"series":"TMF model","d":39580,"v":37.5},{"series":"TMF model","d":39650,"v":38},{"series":"TMF model","d":39700,"v":37},{"series":"TMF model","d":39770,"v":39},{"series":"TMF model","d":39900,"v":46.5},{"series":"TMF model","d":39950,"v":44},
{"series":"TMF model","d":39886,"v":47},{"series":"TMF model","d":39931,"v":48.2},{"series":"TMF model","d":39954,"v":45.8},{"series":"TMF model","d":39914,"v":43.4},{"series":"TMF model","d":39857,"v":44},{"series":"TMF model","d":39989,"v":44.6},
{"series":"TMF model","d":40286,"v":32.5},{"series":"TMF model","d":40343,"v":31.3},{"series":"TMF model","d":40400,"v":30.1},{"series":"TMF model","d":40457,"v":30.7},{"series":"TMF model","d":40514,"v":28.9},{"series":"TMF model","d":40571,"v":28.3},{"series":"TMF model","d":40629,"v":27.1},{"series":"TMF model","d":40674,"v":26.5},{"series":"TMF model","d":40371,"v":28.3},{"series":"TMF model","d":40486,"v":27.7},{"series":"TMF model","d":40314,"v":41.6},{"series":"TMF model","d":40331,"v":39.5},{"series":"TMF model","d":40486,"v":38.6},{"series":"TMF model","d":40514,"v":37.1},{"series":"TMF model","d":40543,"v":35.9},{"series":"TMF model","d":40274,"v":10.8},{"series":"TMF model","d":40714,"v":19.3},{"series":"TMF model","d":40297,"v":14.5},{"series":"TMF model","d":40457,"v":25.3},{"series":"TMF model","d":40600,"v":25.3},
{"series":"TMF model","d":40300,"v":34},{"series":"TMF model","d":40330,"v":30},{"series":"TMF model","d":40360,"v":31.5},{"series":"TMF model","d":40420,"v":29.5},{"series":"TMF model","d":40440,"v":31},{"series":"TMF model","d":40480,"v":29},{"series":"TMF model","d":40500,"v":30},{"series":"TMF model","d":40530,"v":28},{"series":"TMF model","d":40560,"v":27.5},{"series":"TMF model","d":40590,"v":28},{"series":"TMF model","d":40610,"v":26},{"series":"TMF model","d":40640,"v":27},{"series":"TMF model","d":40660,"v":26},{"series":"TMF model","d":40690,"v":25},
{"series":"TMF model","d":42257,"v":44},{"series":"TMF model","d":42314,"v":44.6},{"series":"TMF model","d":42371,"v":43.6},{"series":"TMF model","d":42457,"v":44},{"series":"TMF model","d":42514,"v":42.8},{"series":"TMF model","d":42240,"v":22.7},{"series":"TMF model","d":42354,"v":23.1},{"series":"TMF model","d":42371,"v":21.9},{"series":"TMF model","d":42526,"v":21.7},{"series":"TMF model","d":42743,"v":18.3},{"series":"TMF model","d":43114,"v":17.7},
{"series":"TMF model","d":42720,"v":36},{"series":"TMF model","d":42770,"v":35.8},{"series":"TMF model","d":42820,"v":36.2},{"series":"TMF model","d":42870,"v":35.8},{"series":"TMF model","d":42920,"v":36},{"series":"TMF model","d":42970,"v":35.8},{"series":"TMF model","d":43020,"v":36.2},{"series":"TMF model","d":43070,"v":35.8},{"series":"TMF model","d":43120,"v":36},{"series":"TMF model","d":43155,"v":35.6},
{"series":"Enthalpy Model","d":38171,"e":1853},{"series":"Enthalpy Model","d":38343,"e":1875},{"series":"Enthalpy Model","d":38514,"e":1913},{"series":"Enthalpy Model","d":38686,"e":1938},{"series":"Enthalpy Model","d":38857,"e":1966},{"series":"Enthalpy Model","d":39000,"e":2003},{"series":"Enthalpy Model","d":39143,"e":2009},{"series":"Enthalpy Model","d":39314,"e":1997},{"series":"Enthalpy Model","d":39486,"e":1978},{"series":"Enthalpy Model","d":39657,"e":1966},{"series":"Enthalpy Model","d":39829,"e":1928},{"series":"Enthalpy Model","d":40000,"e":1881},{"series":"Enthalpy Model","d":40171,"e":1875},{"series":"Enthalpy Model","d":40286,"e":1891},{"series":"Enthalpy Model","d":40457,"e":1881},{"series":"Enthalpy Model","d":40571,"e":1891},{"series":"Enthalpy Model","d":40686,"e":1891},{"series":"Enthalpy Model","d":40800,"e":1863},{"series":"Enthalpy Model","d":40971,"e":1853},{"series":"Enthalpy Model","d":41143,"e":1863},{"series":"Enthalpy Model","d":41314,"e":1872},{"series":"Enthalpy Model","d":41486,"e":1853},{"series":"Enthalpy Model","d":41657,"e":1844},{"series":"Enthalpy Model","d":41829,"e":1838},{"series":"Enthalpy Model","d":42000,"e":1838},{"series":"Enthalpy Model","d":42171,"e":1844},{"series":"Enthalpy Model","d":42286,"e":1875},{"series":"Enthalpy Model","d":42457,"e":1881},{"series":"Enthalpy Model","d":42571,"e":1853},{"series":"Enthalpy Model","d":42686,"e":1844},{"series":"Enthalpy Model","d":42800,"e":1900},{"series":"Enthalpy Model","d":42914,"e":1938},{"series":"Enthalpy Model","d":43029,"e":1978},{"series":"Enthalpy Model","d":43143,"e":2016},{"series":"Enthalpy Model","d":43207,"e":2044},{"series":"Enthalpy Model","d":43337,"e":2100},{"series":"Enthalpy Model","d":43467,"e":2128},{"series":"Enthalpy Model","d":43727,"e":2138},
{"series":"TFT","d":38189,"e":1988,"label":""},{"series":"TFT","d":41160,"e":2116,"label":"TFT 2012"},{"series":"TFT","d":42640,"e":1819,"label":"TFT 2015"},{"series":"TFT","d":43189,"e":2013,"label":"TFT 2018"},{"series":"TFT","d":43501,"e":2347,"label":"TFT 2019"},{"series":"TFT","d":43501,"e":2006,"label":""}
 ]},
 "encoding":{"x":{"field":"d","type":"quantitative","scale":{"domain":[37000,44000],"nice":false,"zero":false},"axis":{"values":[37000,38000,39000,40000,41000,42000,43000,44000],"labelExpr":"timeFormat(datetime(1899,11,30+datum.value),'%d/%m/%Y')","title":"Second","grid":true}}},
 "layer":[
  {"transform":[{"filter":"datum.series=='TMF data'||datum.series=='TMF model'"}],
   "mark":{"type":"point","filled":true,"size":24,"opacity":1},
   "encoding":{
    "y":{"field":"v","type":"quantitative","scale":{"domain":[0,80],"nice":false},"axis":{"values":[0,10,20,30,40,50,60,70,80],"title":"TMF (kg/s)","grid":true,"labelPadding":5,"titlePadding":6}},
    "color":{"field":"series","type":"nominal","scale":{"domain":["TMF data","TMF model","Enthalpy Model"],"range":["#5B9BD5","#FFC000","#A5A5A5"]},"legend":{"title":null,"orient":"none","legendX":455,"legendY":106.8,"symbolType":"circle","symbolSize":18,"labelFontSize":7,"labelColor":"#595959","labelFont":"Lato","rowPadding":7.3,"padding":0,"labelOffset":2.5}}
   }},
  {"encoding":{"y":{"field":"e","type":"quantitative","scale":{"domain":[0,2500],"nice":false},"axis":{"orient":"right","values":[0,500,1000,1500,2000,2500],"format":"d","title":"Enthalpy (kJ/kg)","grid":false,"labelPadding":6,"titlePadding":9,"titleAngle":270}}},
   "layer":[
    {"transform":[{"filter":"datum.series=='Enthalpy Model'"}],"mark":{"type":"line","color":"#A5A5A5","strokeWidth":4}},
    {"transform":[{"filter":"datum.series=='TFT'"}],"mark":{"type":"point","shape":"diamond","filled":true,"color":"#ED7D31","size":45,"opacity":1}},
    {"transform":[{"filter":"datum.label=='TFT 2012'"}],"mark":{"type":"text","dx":1,"dy":-10},"encoding":{"text":{"field":"label"}}},
    {"transform":[{"filter":"datum.label=='TFT 2015'"}],"mark":{"type":"text","dx":2,"dy":12},"encoding":{"text":{"field":"label"}}},
    {"transform":[{"filter":"datum.label=='TFT 2018'"}],"mark":{"type":"text","dx":-1,"dy":10},"encoding":{"text":{"field":"label"}}},
    {"transform":[{"filter":"datum.label=='TFT 2019'"}],"mark":{"type":"text","dx":-2,"dy":-12},"encoding":{"text":{"field":"label"}}}
   ]}
 ],
 "resolve":{"scale":{"y":"independent"}}
},
{
 "width":407,"height":218,
 "title":{"text":"HCE 29"},
 "data":{"values":[
{"series":"TMF data","d":41275,"v":60.6},{"series":"TMF data","d":41142,"v":49.9},{"series":"TMF data","d":41166,"v":48.1},{"series":"TMF data","d":41191,"v":44.4},{"series":"TMF data","d":41216,"v":40.7},{"series":"TMF data","d":41240,"v":37.1},{"series":"TMF data","d":41265,"v":35.2},{"series":"TMF data","d":41289,"v":38.9},{"series":"TMF data","d":41314,"v":42.6},{"series":"TMF data","d":41338,"v":46.2},{"series":"TMF data","d":41363,"v":47.2},{"series":"TMF data","d":41142,"v":35.2},{"series":"TMF data","d":41191,"v":34.3},{"series":"TMF data","d":41240,"v":38.9},{"series":"TMF data","d":41289,"v":43.5},{"series":"TMF data","d":41216,"v":14.1},{"series":"TMF data","d":41255,"v":12.3},{"series":"TMF data","d":41289,"v":10.5},{"series":"TMF data","d":41304,"v":5},{"series":"TMF data","d":41150,"v":42},{"series":"TMF data","d":41206,"v":36},{"series":"TMF data","d":41250,"v":46},{"series":"TMF data","d":41300,"v":36},{"series":"TMF data","d":41160,"v":38},
{"series":"TMF data","d":41170,"v":52},{"series":"TMF data","d":41180,"v":45},{"series":"TMF data","d":41200,"v":50},{"series":"TMF data","d":41220,"v":45},{"series":"TMF data","d":41230,"v":40},{"series":"TMF data","d":41260,"v":42},{"series":"TMF data","d":41280,"v":40},{"series":"TMF data","d":41320,"v":48},
{"series":"TMF data","d":41864,"v":109},{"series":"TMF data","d":41854,"v":71.9},{"series":"TMF data","d":41854,"v":66.4},{"series":"TMF data","d":41864,"v":62.8},{"series":"TMF data","d":41854,"v":59.1},{"series":"TMF data","d":41864,"v":55.4},{"series":"TMF data","d":41854,"v":51.7},{"series":"TMF data","d":41864,"v":48.1},{"series":"TMF data","d":41854,"v":34.3},{"series":"TMF data","d":41864,"v":16.9},{"series":"TMF data","d":41879,"v":13.2},{"series":"TMF data","d":41869,"v":7.7},{"series":"TMF data","d":41854,"v":0.4},{"series":"TMF data","d":41903,"v":15},{"series":"TMF data","d":41913,"v":10.5},{"series":"TMF data","d":41859,"v":64},{"series":"TMF data","d":41859,"v":57},
{"series":"TMF data","d":42208,"v":25.1},{"series":"TMF data","d":42228,"v":23.3},{"series":"TMF data","d":42248,"v":27.9},{"series":"TMF data","d":42272,"v":27},{"series":"TMF data","d":42297,"v":26.1},{"series":"TMF data","d":42346,"v":27},{"series":"TMF data","d":42395,"v":18.7},{"series":"TMF data","d":42420,"v":20.6},{"series":"TMF data","d":42445,"v":15},{"series":"TMF data","d":42469,"v":11.4},{"series":"TMF data","d":42494,"v":19.6},{"series":"TMF data","d":42567,"v":20.6},{"series":"TMF data","d":42617,"v":19.6},{"series":"TMF data","d":42690,"v":18.7},{"series":"TMF data","d":42764,"v":20.6},{"series":"TMF data","d":42838,"v":21.5},{"series":"TMF data","d":42911,"v":21.5},{"series":"TMF data","d":42985,"v":20.6},{"series":"TMF data","d":43059,"v":19.6},{"series":"TMF data","d":43083,"v":16.9},{"series":"TMF data","d":43108,"v":13.2},{"series":"TMF data","d":43133,"v":9.5},{"series":"TMF data","d":43123,"v":4},{"series":"TMF data","d":43108,"v":1.3},{"series":"TMF data","d":43157,"v":18.7},{"series":"TMF data","d":43182,"v":20.6},{"series":"TMF data","d":43231,"v":21.5},{"series":"TMF data","d":43255,"v":26.1},{"series":"TMF data","d":43305,"v":27},{"series":"TMF data","d":43354,"v":27},{"series":"TMF data","d":43403,"v":27},{"series":"TMF data","d":43280,"v":7.7},{"series":"TMF data","d":43329,"v":7.7},{"series":"TMF data","d":43378,"v":7.7},{"series":"TMF data","d":43428,"v":7.7},{"series":"TMF data","d":43206,"v":7.7},{"series":"TMF data","d":43157,"v":9.5},{"series":"TMF data","d":43095,"v":18},{"series":"TMF data","d":43120,"v":15},{"series":"TMF data","d":43140,"v":21},
{"series":"TMF data","d":42240,"v":26},{"series":"TMF data","d":42320,"v":27},{"series":"TMF data","d":42370,"v":23},{"series":"TMF data","d":42430,"v":19},{"series":"TMF data","d":42520,"v":20},{"series":"TMF data","d":42600,"v":19},{"series":"TMF data","d":42650,"v":19.5},{"series":"TMF data","d":42720,"v":20},{"series":"TMF data","d":42800,"v":21},{"series":"TMF data","d":42870,"v":21},{"series":"TMF data","d":42950,"v":21},{"series":"TMF data","d":43020,"v":20},{"series":"TMF data","d":43240,"v":27},{"series":"TMF data","d":43270,"v":27},{"series":"TMF data","d":43330,"v":27},{"series":"TMF data","d":43380,"v":27},{"series":"TMF data","d":43430,"v":27},{"series":"TMF data","d":43240,"v":8},{"series":"TMF data","d":43300,"v":8},{"series":"TMF data","d":43350,"v":8},{"series":"TMF data","d":43400,"v":8},{"series":"TMF data","d":43100,"v":19},{"series":"TMF data","d":43160,"v":20},{"series":"TMF data","d":43200,"v":21},
{"series":"TMF model","d":41156,"v":52.7},{"series":"TMF model","d":41191,"v":53.6},{"series":"TMF model","d":41225,"v":53.2},{"series":"TMF model","d":41255,"v":51.7},{"series":"TMF model","d":41216,"v":49.9},{"series":"TMF model","d":41166,"v":46.2},{"series":"TMF model","d":41275,"v":28.8},{"series":"TMF model","d":41265,"v":26.1},{"series":"TMF model","d":41206,"v":24.6},{"series":"TMF model","d":41289,"v":24.2},{"series":"TMF model","d":41314,"v":29.7},{"series":"TMF model","d":41142,"v":17.8},{"series":"TMF model","d":41324,"v":18.7},{"series":"TMF model","d":41240,"v":41.7},{"series":"TMF model","d":41304,"v":44.4},{"series":"TMF model","d":41265,"v":8.6},{"series":"TMF model","d":41329,"v":38.9},{"series":"TMF model","d":41180,"v":51},{"series":"TMF model","d":41240,"v":52},{"series":"TMF model","d":41170,"v":50},
{"series":"TMF model","d":41864,"v":58.2},{"series":"TMF model","d":41869,"v":40.4},{"series":"TMF model","d":41854,"v":28.8},{"series":"TMF model","d":41879,"v":29.7},{"series":"TMF model","d":41953,"v":6.2},
{"series":"TMF model","d":41903,"v":12.4},{"series":"TMF model","d":41928,"v":12.4},{"series":"TMF model","d":41953,"v":12.4},{"series":"TMF model","d":41978,"v":12.4},{"series":"TMF model","d":42002,"v":12.4},{"series":"TMF model","d":42027,"v":12.4},{"series":"TMF model","d":42051,"v":12.4},{"series":"TMF model","d":42076,"v":12.4},{"series":"TMF model","d":42100,"v":12.4},{"series":"TMF model","d":42125,"v":12.4},{"series":"TMF model","d":42149,"v":12.4},{"series":"TMF model","d":42174,"v":12.4},{"series":"TMF model","d":42198,"v":12.4},
{"series":"TMF model","d":42223,"v":27},{"series":"TMF model","d":42257,"v":26.1},{"series":"TMF model","d":42297,"v":27},{"series":"TMF model","d":42322,"v":25.1},{"series":"TMF model","d":42371,"v":25.1},{"series":"TMF model","d":42420,"v":18.7},{"series":"TMF model","d":42469,"v":19.1},{"series":"TMF model","d":42518,"v":18.3},{"series":"TMF model","d":42592,"v":17.8},{"series":"TMF model","d":42666,"v":17.2},{"series":"TMF model","d":42739,"v":18.7},{"series":"TMF model","d":42789,"v":20.2},{"series":"TMF model","d":42862,"v":20.6},{"series":"TMF model","d":42936,"v":20.9},{"series":"TMF model","d":43010,"v":20.6},{"series":"TMF model","d":43083,"v":19.6},{"series":"TMF model","d":43157,"v":19.1},{"series":"TMF model","d":43231,"v":18.7},{"series":"TMF model","d":43305,"v":18.3},{"series":"TMF model","d":43378,"v":17.8},{"series":"TMF model","d":43428,"v":18.7},{"series":"TMF model","d":43034,"v":5.9},{"series":"TMF model","d":43074,"v":14.1},{"series":"TMF model","d":43083,"v":9.5},{"series":"TMF model","d":43034,"v":3.1},{"series":"TMF model","d":42985,"v":10.5},{"series":"TMF model","d":42617,"v":9.2},{"series":"TMF model","d":42641,"v":9.5},{"series":"TMF model","d":43354,"v":10.5},{"series":"TMF model","d":43428,"v":27},{"series":"TMF model","d":43452,"v":27},{"series":"TMF model","d":43477,"v":15},{"series":"TMF model","d":43521,"v":27},{"series":"TMF model","d":43507,"v":13.4},{"series":"TMF model","d":42297,"v":19.1},{"series":"TMF model","d":42223,"v":16.9},{"series":"TMF model","d":43490,"v":27},{"series":"TMF model","d":43470,"v":19},
{"series":"TMF model","d":42440,"v":18.5},{"series":"TMF model","d":42540,"v":18},{"series":"TMF model","d":42620,"v":17.5},{"series":"TMF model","d":42700,"v":18},{"series":"TMF model","d":42760,"v":19.5},{"series":"TMF model","d":42820,"v":20.5},{"series":"TMF model","d":42900,"v":20.8},{"series":"TMF model","d":42960,"v":20.7},{"series":"TMF model","d":43040,"v":20},{"series":"TMF model","d":43120,"v":19.3},{"series":"TMF model","d":43200,"v":19},{"series":"TMF model","d":43270,"v":18.5},{"series":"TMF model","d":43340,"v":18},{"series":"TMF model","d":43400,"v":18.2},
{"series":"Enthalpy Model","d":38200,"e":1492},{"series":"Enthalpy Model","d":38800,"e":1495},{"series":"Enthalpy Model","d":39300,"e":1492},{"series":"Enthalpy Model","d":39500,"e":1482},{"series":"Enthalpy Model","d":40500,"e":1482},{"series":"Enthalpy Model","d":41000,"e":1485},{"series":"Enthalpy Model","d":41120,"e":1495},{"series":"Enthalpy Model","d":41180,"e":1520},{"series":"Enthalpy Model","d":41260,"e":1500},{"series":"Enthalpy Model","d":41400,"e":1485},{"series":"Enthalpy Model","d":42000,"e":1485},{"series":"Enthalpy Model","d":42700,"e":1482},{"series":"Enthalpy Model","d":43200,"e":1478},{"series":"Enthalpy Model","d":43713,"e":1475},
{"series":"TFT","d":38200,"e":1583,"label":""},{"series":"TFT","d":41156,"e":1583,"label":"TFT 2012"},{"series":"TFT","d":42626,"e":1629,"label":"TFT 2015"},{"series":"TFT","d":43132,"e":1566,"label":"TFT 2018"}
 ]},
 "encoding":{"x":{"field":"d","type":"quantitative","scale":{"domain":[38200,44200],"nice":false,"zero":false},"axis":{"values":[38200,39200,40200,41200,42200,43200,44200],"labelExpr":"timeFormat(datetime(1899,11,30+datum.value),'%d/%m/%Y')","title":"Second","grid":true}}},
 "layer":[
  {"transform":[{"filter":"datum.series=='TMF data'||datum.series=='TMF model'"}],
   "mark":{"type":"point","filled":true,"size":24,"opacity":1},
   "encoding":{
    "y":{"field":"v","type":"quantitative","scale":{"domain":[0,120],"nice":false},"axis":{"values":[0,20,40,60,80,100,120],"title":"TMF (kg/s)","grid":true,"labelPadding":5,"titlePadding":6}},
    "color":{"field":"series","type":"nominal","scale":{"domain":["TMF data","TMF model","Enthalpy Model"],"range":["#5B9BD5","#FFC000","#A5A5A5"]},"legend":{"title":null,"orient":"none","legendX":455,"legendY":104.2,"symbolType":"circle","symbolSize":18,"labelFontSize":7,"labelColor":"#595959","labelFont":"Lato","rowPadding":7.3,"padding":0,"labelOffset":2.5}}
   }},
  {"encoding":{"y":{"field":"e","type":"quantitative","scale":{"domain":[0,1800],"nice":false},"axis":{"orient":"right","values":[0,200,400,600,800,1000,1200,1400,1600,1800],"format":"d","title":"Enthalpy (kJ/kg)","grid":false,"labelPadding":6,"titlePadding":9,"titleAngle":270}}},
   "layer":[
    {"transform":[{"filter":"datum.series=='Enthalpy Model'"}],"mark":{"type":"line","color":"#A5A5A5","strokeWidth":4}},
    {"transform":[{"filter":"datum.series=='TFT'"}],"mark":{"type":"point","shape":"diamond","filled":true,"color":"#ED7D31","size":45,"opacity":1}},
    {"transform":[{"filter":"datum.label=='TFT 2012'"}],"mark":{"type":"text","dx":-1,"dy":22},"encoding":{"text":{"field":"label"}}},
    {"transform":[{"filter":"datum.label=='TFT 2015'"}],"mark":{"type":"text","dx":1,"dy":-10},"encoding":{"text":{"field":"label"}}},
    {"transform":[{"filter":"datum.label=='TFT 2018'"}],"mark":{"type":"text","dx":2,"dy":18},"encoding":{"text":{"field":"label"}}}
   ]}
 ],
 "resolve":{"scale":{"y":"independent"}}
},
{
 "width":407,"height":220,
 "title":{"text":"HCE 30"},
 "data":{"values":[
{"series":"TMF data","d":41280,"v":118},{"series":"TMF data","d":41265,"v":111},{"series":"TMF data","d":41275,"v":105},{"series":"TMF data","d":41289,"v":99},{"series":"TMF data","d":41280,"v":93},{"series":"TMF data","d":41294,"v":87},{"series":"TMF data","d":41284,"v":81},{"series":"TMF data","d":41294,"v":75},{"series":"TMF data","d":41275,"v":66},{"series":"TMF data","d":41289,"v":60},{"series":"TMF data","d":41280,"v":54},{"series":"TMF data","d":41270,"v":48},{"series":"TMF data","d":41284,"v":42},{"series":"TMF data","d":41299,"v":35},{"series":"TMF data","d":41314,"v":29},{"series":"TMF data","d":41289,"v":23},{"series":"TMF data","d":41324,"v":17},{"series":"TMF data","d":41304,"v":11},{"series":"TMF data","d":41314,"v":7},{"series":"TMF data","d":41294,"v":3},{"series":"TMF data","d":41363,"v":5},{"series":"TMF data","d":41338,"v":10},{"series":"TMF data","d":41255,"v":48},{"series":"TMF data","d":41265,"v":40},
{"series":"TMF data","d":41270,"v":114},{"series":"TMF data","d":41285,"v":108},{"series":"TMF data","d":41280,"v":102},{"series":"TMF data","d":41290,"v":96},{"series":"TMF data","d":41275,"v":90},{"series":"TMF data","d":41285,"v":84},{"series":"TMF data","d":41280,"v":78},{"series":"TMF data","d":41290,"v":72},{"series":"TMF data","d":41285,"v":69},{"series":"TMF data","d":41280,"v":63},{"series":"TMF data","d":41290,"v":57},{"series":"TMF data","d":41275,"v":51},{"series":"TMF data","d":41285,"v":45},{"series":"TMF data","d":41290,"v":38},{"series":"TMF data","d":41300,"v":32},{"series":"TMF data","d":41295,"v":26},{"series":"TMF data","d":41310,"v":20},{"series":"TMF data","d":41300,"v":14},
{"series":"TMF data","d":41988,"v":89},{"series":"TMF data","d":41978,"v":63},{"series":"TMF data","d":41963,"v":66},{"series":"TMF data","d":41988,"v":67},{"series":"TMF data","d":41998,"v":60},{"series":"TMF data","d":41939,"v":46},{"series":"TMF data","d":41929,"v":11},{"series":"TMF data","d":41914,"v":11},{"series":"TMF data","d":41949,"v":11},{"series":"TMF data","d":42013,"v":42},{"series":"TMF data","d":42027,"v":35},{"series":"TMF data","d":42037,"v":23},{"series":"TMF data","d":41998,"v":17},{"series":"TMF data","d":42062,"v":11},{"series":"TMF data","d":42086,"v":7},{"series":"TMF data","d":42013,"v":4},{"series":"TMF data","d":41978,"v":26},{"series":"TMF data","d":42047,"v":29},{"series":"TMF data","d":41865,"v":11},{"series":"TMF data","d":41900,"v":10},{"series":"TMF data","d":42072,"v":17},{"series":"TMF data","d":42086,"v":23},{"series":"TMF data","d":41975,"v":50},{"series":"TMF data","d":42000,"v":55},
{"series":"TMF data","d":41970,"v":58},{"series":"TMF data","d":41990,"v":62},{"series":"TMF data","d":42000,"v":50},{"series":"TMF data","d":42010,"v":45},{"series":"TMF data","d":42020,"v":38},{"series":"TMF data","d":42030,"v":30},{"series":"TMF data","d":42040,"v":26},{"series":"TMF data","d":42050,"v":20},{"series":"TMF data","d":42060,"v":15},{"series":"TMF data","d":41990,"v":35},{"series":"TMF data","d":41960,"v":30},{"series":"TMF data","d":41950,"v":25},{"series":"TMF data","d":41940,"v":20},{"series":"TMF data","d":42010,"v":8},{"series":"TMF data","d":42030,"v":5},
{"series":"TMF data","d":42223,"v":23},{"series":"TMF data","d":42238,"v":19},{"series":"TMF data","d":42208,"v":8},{"series":"TMF data","d":42248,"v":4},{"series":"TMF data","d":42272,"v":2},{"series":"TMF data","d":42297,"v":5},{"series":"TMF data","d":42346,"v":7},{"series":"TMF data","d":42395,"v":8},{"series":"TMF data","d":42420,"v":17},{"series":"TMF data","d":42445,"v":26},{"series":"TMF data","d":42469,"v":29},{"series":"TMF data","d":42494,"v":31},{"series":"TMF data","d":42484,"v":17},{"series":"TMF data","d":42518,"v":11},{"series":"TMF data","d":42518,"v":4},{"series":"TMF data","d":42543,"v":23},{"series":"TMF data","d":42420,"v":5},{"series":"TMF data","d":42371,"v":14},{"series":"TMF data","d":42210,"v":20},
{"series":"TMF data","d":42715,"v":141.5},{"series":"TMF data","d":42730,"v":135},{"series":"TMF data","d":42690,"v":128},{"series":"TMF data","d":42715,"v":123},{"series":"TMF data","d":42739,"v":117},{"series":"TMF data","d":42764,"v":120},{"series":"TMF data","d":42789,"v":113},{"series":"TMF data","d":42813,"v":108},{"series":"TMF data","d":42838,"v":102},{"series":"TMF data","d":42862,"v":96},{"series":"TMF data","d":42887,"v":90},{"series":"TMF data","d":42911,"v":84},{"series":"TMF data","d":42936,"v":78},{"series":"TMF data","d":42961,"v":90},{"series":"TMF data","d":42985,"v":99},{"series":"TMF data","d":43010,"v":102},{"series":"TMF data","d":42764,"v":99},{"series":"TMF data","d":42813,"v":90},{"series":"TMF data","d":42838,"v":78},{"series":"TMF data","d":42779,"v":72},{"series":"TMF data","d":42887,"v":108},{"series":"TMF data","d":42936,"v":114},{"series":"TMF data","d":42961,"v":135},{"series":"TMF data","d":42862,"v":135},{"series":"TMF data","d":42813,"v":132},{"series":"TMF data","d":42700,"v":116},{"series":"TMF data","d":42985,"v":90},{"series":"TMF data","d":43010,"v":84},{"series":"TMF data","d":42887,"v":72},{"series":"TMF data","d":42862,"v":63},{"series":"TMF data","d":42798,"v":63},
{"series":"TMF data","d":42700,"v":131},{"series":"TMF data","d":42720,"v":127},{"series":"TMF data","d":42740,"v":112},{"series":"TMF data","d":42760,"v":106},{"series":"TMF data","d":42780,"v":100},{"series":"TMF data","d":42800,"v":96},{"series":"TMF data","d":42820,"v":100},{"series":"TMF data","d":42840,"v":94},{"series":"TMF data","d":42860,"v":88},{"series":"TMF data","d":42880,"v":99},{"series":"TMF data","d":42900,"v":102},{"series":"TMF data","d":42920,"v":96},{"series":"TMF data","d":42940,"v":92},{"series":"TMF data","d":42960,"v":100},{"series":"TMF data","d":42980,"v":108},{"series":"TMF data","d":43000,"v":96},{"series":"TMF data","d":42730,"v":100},{"series":"TMF data","d":42750,"v":94},{"series":"TMF data","d":42770,"v":86},{"series":"TMF data","d":42800,"v":80},{"series":"TMF data","d":42900,"v":78},{"series":"TMF data","d":42920,"v":82},{"series":"TMF data","d":42980,"v":80},
{"series":"TMF data","d":43231,"v":184},{"series":"TMF data","d":43255,"v":179},{"series":"TMF data","d":43206,"v":169},{"series":"TMF data","d":43182,"v":163},{"series":"TMF data","d":43133,"v":157},{"series":"TMF data","d":43108,"v":152},{"series":"TMF data","d":43083,"v":148},{"series":"TMF data","d":43074,"v":135},{"series":"TMF data","d":43083,"v":123},{"series":"TMF data","d":43133,"v":114},{"series":"TMF data","d":43157,"v":96},{"series":"TMF data","d":43172,"v":85},{"series":"TMF data","d":43142,"v":90},{"series":"TMF data","d":43157,"v":107},{"series":"TMF data","d":43231,"v":157},{"series":"TMF data","d":43270,"v":151},{"series":"TMF data","d":43241,"v":123},
{"series":"TMF data","d":43095,"v":130},{"series":"TMF data","d":43115,"v":140},{"series":"TMF data","d":43140,"v":150},{"series":"TMF data","d":43160,"v":160},{"series":"TMF data","d":43190,"v":165},{"series":"TMF data","d":43215,"v":175},{"series":"TMF data","d":43250,"v":182},{"series":"TMF data","d":43120,"v":105},{"series":"TMF data","d":43145,"v":100},
{"series":"TMF data","d":43296,"v":105.5},{"series":"TMF data","d":43324,"v":111.5},{"series":"TMF data","d":43352,"v":117.6},{"series":"TMF data","d":43380,"v":122.2},{"series":"TMF data","d":43408,"v":129.7},{"series":"TMF data","d":43435,"v":138.8},{"series":"TMF data","d":43452,"v":147.9},{"series":"TMF data","d":43463,"v":154},{"series":"TMF data","d":43492,"v":150.9},{"series":"TMF data","d":43519,"v":147.9},{"series":"TMF data","d":43492,"v":91.8},
{"series":"TMF data","d":43300,"v":108},{"series":"TMF data","d":43340,"v":115},{"series":"TMF data","d":43370,"v":120},{"series":"TMF data","d":43400,"v":126},{"series":"TMF data","d":43440,"v":143},{"series":"TMF data","d":43470,"v":152},{"series":"TMF data","d":43500,"v":149},
{"series":"TMF model","d":41289,"v":75},{"series":"TMF model","d":41280,"v":66},{"series":"TMF model","d":41299,"v":60},{"series":"TMF model","d":41275,"v":54},{"series":"TMF model","d":41289,"v":48},{"series":"TMF model","d":41265,"v":23},{"series":"TMF model","d":41294,"v":38},{"series":"TMF model","d":41314,"v":29},{"series":"TMF model","d":41304,"v":20},{"series":"TMF model","d":41324,"v":11},
{"series":"TMF model","d":41988,"v":29},{"series":"TMF model","d":42013,"v":23},{"series":"TMF model","d":42037,"v":17},{"series":"TMF model","d":42062,"v":8},{"series":"TMF model","d":41963,"v":20},{"series":"TMF model","d":42003,"v":34},{"series":"TMF model","d":42086,"v":2},{"series":"TMF model","d":41939,"v":17},{"series":"TMF model","d":42027,"v":11},
{"series":"TMF model","d":42223,"v":11},{"series":"TMF model","d":42257,"v":8},{"series":"TMF model","d":42297,"v":4},{"series":"TMF model","d":42346,"v":5},{"series":"TMF model","d":42395,"v":11},{"series":"TMF model","d":42420,"v":23},{"series":"TMF model","d":42455,"v":20},{"series":"TMF model","d":42484,"v":25},{"series":"TMF model","d":42504,"v":11},{"series":"TMF model","d":42533,"v":5},{"series":"TMF model","d":42248,"v":17},
{"series":"TMF model","d":42700,"v":138},{"series":"TMF model","d":42730,"v":132},{"series":"TMF model","d":42764,"v":126},{"series":"TMF model","d":42789,"v":120},{"series":"TMF model","d":42813,"v":114},{"series":"TMF model","d":42838,"v":105},{"series":"TMF model","d":42862,"v":99},{"series":"TMF model","d":42887,"v":93},{"series":"TMF model","d":42911,"v":87},{"series":"TMF model","d":42936,"v":81},{"series":"TMF model","d":42961,"v":75},{"series":"TMF model","d":42985,"v":84},{"series":"TMF model","d":43010,"v":87},{"series":"TMF model","d":42715,"v":66},{"series":"TMF model","d":42749,"v":60},{"series":"TMF model","d":42789,"v":69},{"series":"TMF model","d":42828,"v":75},{"series":"TMF model","d":42877,"v":81},{"series":"TMF model","d":42690,"v":134},{"series":"TMF model","d":42975,"v":132},
{"series":"TMF model","d":42720,"v":118},{"series":"TMF model","d":42750,"v":110},{"series":"TMF model","d":42780,"v":104},{"series":"TMF model","d":42800,"v":108},{"series":"TMF model","d":42830,"v":96},{"series":"TMF model","d":42850,"v":90},{"series":"TMF model","d":42870,"v":87},{"series":"TMF model","d":42900,"v":84},{"series":"TMF model","d":42920,"v":90},{"series":"TMF model","d":42950,"v":84},{"series":"TMF model","d":42990,"v":92},{"series":"TMF model","d":42740,"v":90},{"series":"TMF model","d":42760,"v":84},{"series":"TMF model","d":42790,"v":78},{"series":"TMF model","d":42810,"v":72},{"series":"TMF model","d":42830,"v":66},
{"series":"TMF model","d":43123,"v":149},{"series":"TMF model","d":43157,"v":155},{"series":"TMF model","d":43192,"v":163},{"series":"TMF model","d":43221,"v":172},{"series":"TMF model","d":43241,"v":176},{"series":"TMF model","d":43255,"v":181},{"series":"TMF model","d":43108,"v":140},{"series":"TMF model","d":43093,"v":132},{"series":"TMF model","d":43074,"v":123},{"series":"TMF model","d":43133,"v":78},{"series":"TMF model","d":43147,"v":76},{"series":"TMF model","d":43270,"v":134},{"series":"TMF model","d":43206,"v":141},
{"series":"TMF model","d":43100,"v":138},{"series":"TMF model","d":43130,"v":146},{"series":"TMF model","d":43170,"v":158},{"series":"TMF model","d":43200,"v":166},{"series":"TMF model","d":43230,"v":178},
{"series":"TMF model","d":43306,"v":108.5},{"series":"TMF model","d":43363,"v":114.5},{"series":"TMF model","d":43419,"v":123.6},{"series":"TMF model","d":43463,"v":138.8},{"series":"TMF model","d":43507,"v":147.9},{"series":"TMF model","d":43519,"v":141.8},{"series":"TMF model","d":43507,"v":74.5},
{"series":"TMF model","d":43330,"v":112},{"series":"TMF model","d":43390,"v":120},{"series":"TMF model","d":43440,"v":135},{"series":"TMF model","d":43480,"v":146},
{"series":"Enthalpy Model","d":38200,"e":1452},{"series":"Enthalpy Model","d":39000,"e":1452},{"series":"Enthalpy Model","d":40000,"e":1452},{"series":"Enthalpy Model","d":41200,"e":1450},{"series":"Enthalpy Model","d":41300,"e":1455},{"series":"Enthalpy Model","d":42000,"e":1452},{"series":"Enthalpy Model","d":42500,"e":1452},{"series":"Enthalpy Model","d":43000,"e":1450},{"series":"Enthalpy Model","d":43743,"e":1452},
{"series":"TFT","d":38200,"e":1385,"label":""},{"series":"TFT","d":42233,"e":1188,"label":"TFT 2015"},{"series":"TFT","d":43143,"e":1400,"label":"TFT 2018"},{"series":"TFT","d":43503,"e":1443,"label":"TFT 2019"}
 ]},
 "encoding":{"x":{"field":"d","type":"quantitative","scale":{"domain":[38200,44200],"nice":false,"zero":false},"axis":{"values":[38200,39200,40200,41200,42200,43200,44200],"labelExpr":"timeFormat(datetime(1899,11,30+datum.value),'%d/%m/%Y')","title":"Second","grid":true}}},
 "layer":[
  {"transform":[{"filter":"datum.series=='TMF data'||datum.series=='TMF model'"}],
   "mark":{"type":"point","filled":true,"size":24,"opacity":1},
   "encoding":{
    "y":{"field":"v","type":"quantitative","scale":{"domain":[0,200],"nice":false},"axis":{"values":[0,20,40,60,80,100,120,140,160,180,200],"title":"TMF (kg/s)","grid":true,"labelPadding":5,"titlePadding":6}},
    "color":{"field":"series","type":"nominal","scale":{"domain":["TMF data","TMF model","Enthalpy Model"],"range":["#5B9BD5","#FFC000","#A5A5A5"]},"legend":{"title":null,"orient":"none","legendX":455,"legendY":106.1,"symbolType":"circle","symbolSize":18,"labelFontSize":7,"labelColor":"#595959","labelFont":"Lato","rowPadding":7.3,"padding":0,"labelOffset":2.5}}
   }},
  {"encoding":{"y":{"field":"e","type":"quantitative","scale":{"domain":[0,2000],"nice":false},"axis":{"orient":"right","values":[0,200,400,600,800,1000,1200,1400,1600,1800,2000],"format":"d","title":"Enthalpy (kJ/kg)","grid":false,"labelPadding":6,"titlePadding":9,"titleAngle":270}}},
   "layer":[
    {"transform":[{"filter":"datum.series=='Enthalpy Model'"}],"mark":{"type":"line","color":"#A5A5A5","strokeWidth":5.5}},
    {"transform":[{"filter":"datum.series=='TFT'"}],"mark":{"type":"point","shape":"diamond","filled":true,"color":"#ED7D31","size":45,"opacity":1}},
    {"transform":[{"filter":"datum.label=='TFT 2015'"}],"mark":{"type":"text","dx":2,"dy":9},"encoding":{"text":{"field":"label"}}},
    {"transform":[{"filter":"datum.label=='TFT 2018'"}],"mark":{"type":"text","dx":-22,"dy":-26},"encoding":{"text":{"field":"label"}}},
    {"transform":[{"filter":"datum.label=='TFT 2019'"}],"mark":{"type":"text","dx":15,"dy":-21},"encoding":{"text":{"field":"label"}}}
   ]}
 ],
 "resolve":{"scale":{"y":"independent"}}
}
]
}
